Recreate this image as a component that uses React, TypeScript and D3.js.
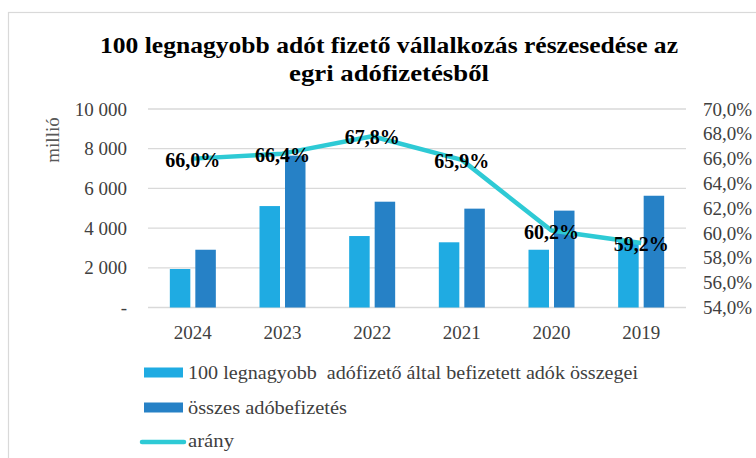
import React from 'react';
import * as d3 from 'd3';

const width = 756;
const height = 458;
const margin = { top: 109, right: 70, bottom: 150, left: 148 };
const plotRight = 686;
const plotBottom = 307.5;

const lightBlue = '#1fabe2';
const darkBlue = '#2681c6';
const cyan = '#2ecad5';
const textGray = '#404040';
const gridGray = '#d9d9d9';
const font = '"Liberation Serif", "DejaVu Serif", serif';

const years = ['2024', '2023', '2022', '2021', '2020', '2019'];
const top100 = [1940, 5110, 3600, 3285, 2910, 3335];
const total = [2910, 7650, 5330, 4980, 4880, 5630];
const ratio = [66.0, 66.4, 67.8, 65.9, 60.2, 59.2];

const leftTicks = [0, 2000, 4000, 6000, 8000, 10000];
const rightTicks = [54, 56, 58, 60, 62, 64, 66, 68, 70];

const fmtLeft = (d: number) => (d === 0 ? '-' : d3.format(',')(d).replace(',', ' '));
const fmtPct = (d: number) => d.toFixed(1).replace('.', ',') + '%';

export default function App() {
  const x = d3.scaleBand<string>().domain(years).range([margin.left, plotRight]);
  const y = d3.scaleLinear().domain([0, 10000]).range([plotBottom, margin.top]);
  const yr = d3.scaleLinear().domain([54, 70]).range([plotBottom, margin.top]);

  const barW = 20.5;
  const gap = 5;

  const line = d3
    .line<number>()
    .x((_, i) => (x(years[i]) as number) + x.bandwidth() / 2)
    .y((d) => yr(d));

  return (
    <svg
      width={width}
      height={height}
      style={{ position: 'absolute', left: 0, top: 0, background: '#fff' }}
      fontFamily={font}
    >
      {/* chart border */}
      <rect x={8.5} y={12.5} width={width + 10} height={height + 10} fill="#fff" stroke={gridGray} strokeWidth={1.2} />

      <text x={389} y={53} textAnchor="middle" fontSize={23} fontWeight="bold" fill="#000"
        textLength={578} lengthAdjust="spacingAndGlyphs">
        100 legnagyobb adót fizető vállalkozás részesedése az
      </text>
      <text x={389} y={81} textAnchor="middle" fontSize={23} fontWeight="bold" fill="#000"
        textLength={200} lengthAdjust="spacingAndGlyphs">
        egri adófizetésből
      </text>

      {/* grid */}
      {leftTicks.map((t) => (
        <line key={t} x1={margin.left} x2={plotRight} y1={y(t)} y2={y(t)} stroke={gridGray} strokeWidth={1.3} />
      ))}

      {/* left axis labels */}
      {leftTicks.map((t) => (
        <text key={t} x={127} y={y(t)} textAnchor="end" dominantBaseline="central" fontSize={19} fill={textGray}>
          {fmtLeft(t)}
        </text>
      ))}
      <text
        transform={`translate(52,140) rotate(-90)`}
        textAnchor="middle"
        dominantBaseline="central"
        fontSize={19}
        fill="#595959"
      >
        millió
      </text>

      {/* right axis labels */}
      {rightTicks.map((t) => (
        <text key={t} x={703} y={yr(t)} textAnchor="start" dominantBaseline="central" fontSize={19} fill={textGray}>
          {fmtPct(t)}
        </text>
      ))}

      {/* bars */}
      {years.map((yrName, i) => {
        const cx = (x(yrName) as number) + x.bandwidth() / 2;
        return (
          <g key={yrName}>
            <rect x={cx - gap / 2 - barW} y={y(top100[i])} width={barW} height={plotBottom - y(top100[i])} fill={lightBlue} />
            <rect x={cx + gap / 2} y={y(total[i])} width={barW} height={plotBottom - y(total[i])} fill={darkBlue} />
          </g>
        );
      })}

      {/* x labels */}
      {years.map((yrName) => (
        <text
          key={yrName}
          x={(x(yrName) as number) + x.bandwidth() / 2}
          y={332}
          textAnchor="middle"
          dominantBaseline="central"
          fontSize={19}
          fill={textGray}
        >
          {yrName}
        </text>
      ))}

      {/* ratio line */}
      <path d={line(ratio) || ''} fill="none" stroke={cyan} strokeWidth={4.5} strokeLinejoin="round" />
      {ratio.map((r, i) => (
        <text
          key={i}
          x={(x(years[i]) as number) + x.bandwidth() / 2}
          y={yr(r) + 1}
          textAnchor="middle"
          dominantBaseline="central"
          fontSize={20}
          fontWeight="bold"
          fill="#000"
        >
          {fmtPct(r)}
        </text>
      ))}

      {/* legend */}
      <rect x={144} y={367.5} width={39} height={10} fill={lightBlue} />
      <text x={188} y={373} dominantBaseline="central" fontSize={18.5} fill={textGray} style={{ whiteSpace: 'pre' }}
        textLength={450} lengthAdjust="spacingAndGlyphs">
        {'100 legnagyobb  adófizető által befizetett adók összegei'}
      </text>
      <rect x={144} y={402.5} width={39} height={10} fill={darkBlue} />
      <text x={188} y={407.5} dominantBaseline="central" fontSize={18.5} fill={textGray}
        textLength={159} lengthAdjust="spacingAndGlyphs">
        összes adóbefizetés
      </text>
      <line x1={142} x2={184} y1={442} y2={442} stroke={cyan} strokeWidth={4.5} strokeLinecap="round" />
      <text x={188} y={441} dominantBaseline="central" fontSize={18.5} fill={textGray}
        textLength={46} lengthAdjust="spacingAndGlyphs">
        arány
      </text>
    </svg>
  );
}
